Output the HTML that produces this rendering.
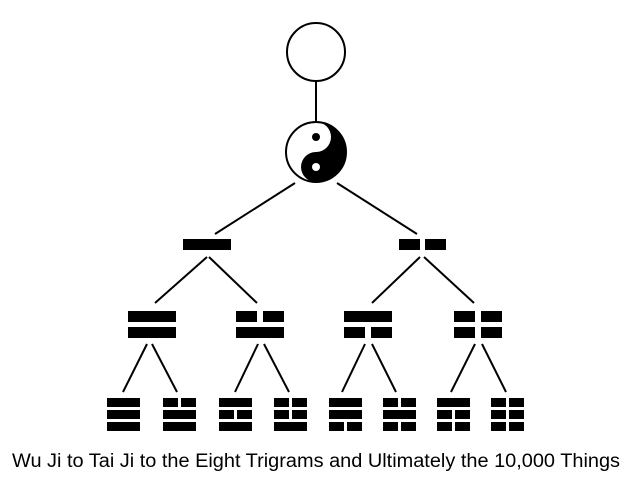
<!DOCTYPE html>
<html><head><style>html,body{margin:0;padding:0;background:#fff;}svg{display:block}</style></head>
<body>
<svg width="633" height="484" viewBox="0 0 633 484" xmlns="http://www.w3.org/2000/svg">
<rect width="633" height="484" fill="#fff"/>
<g stroke="#000" stroke-width="2" fill="none">
<circle cx="316" cy="52" r="29"/>
<line x1="316" y1="81" x2="316" y2="122"/>
<line x1="295" y1="183" x2="215" y2="234"/>
<line x1="337" y1="183" x2="417" y2="234"/>
<line x1="207" y1="257" x2="155" y2="303"/>
<line x1="209" y1="257" x2="257" y2="303"/>
<line x1="420" y1="257" x2="372" y2="303"/>
<line x1="424" y1="257" x2="474" y2="303"/>
<line x1="147" y1="344" x2="123" y2="392"/>
<line x1="152" y1="344" x2="177" y2="392"/>
<line x1="258" y1="344" x2="235" y2="392"/>
<line x1="264" y1="344" x2="289" y2="392"/>
<line x1="365" y1="344" x2="342" y2="392"/>
<line x1="372" y1="344" x2="396" y2="392"/>
<line x1="475" y1="344" x2="451" y2="392"/>
<line x1="482" y1="344" x2="506" y2="392"/>
</g>
<circle cx="316" cy="152" r="30" fill="#fff"/>
<path d="M316,122 A30,30 0 0 1 316,182 A15,15 0 0 1 316,152 A15,15 0 0 0 316,122 Z" fill="#000"/>
<circle cx="316" cy="152" r="30" fill="none" stroke="#000" stroke-width="2"/>
<circle cx="316" cy="137" r="4" fill="#000"/>
<circle cx="316" cy="167" r="4" fill="#fff"/>
<g fill="#000">
<rect x="183" y="239" width="48" height="11"/>
<rect x="399" y="239" width="21" height="11"/><rect x="425" y="239" width="21" height="11"/>
<rect x="128" y="311" width="48" height="11"/><rect x="128" y="327" width="48" height="11"/>
<rect x="236" y="311" width="21" height="11"/><rect x="263" y="311" width="21" height="11"/><rect x="236" y="327" width="48" height="11"/>
<rect x="344" y="311" width="48" height="11"/><rect x="344" y="327" width="21" height="11"/><rect x="371" y="327" width="21" height="11"/>
<rect x="454" y="311" width="21" height="11"/><rect x="481" y="311" width="21" height="11"/><rect x="454" y="327" width="21" height="11"/><rect x="481" y="327" width="21" height="11"/>

<!-- 1: 111 -->
<rect x="107" y="398" width="33" height="9"/><rect x="107" y="410" width="33" height="9"/><rect x="107" y="422" width="33" height="9"/>
<!-- 2: 011 -->
<rect x="163" y="398" width="15" height="9"/><rect x="181" y="398" width="15" height="9"/><rect x="163" y="410" width="33" height="9"/><rect x="163" y="422" width="33" height="9"/>
<!-- 3: 101 -->
<rect x="219" y="398" width="33" height="9"/><rect x="219" y="410" width="15" height="9"/><rect x="237" y="410" width="15" height="9"/><rect x="219" y="422" width="33" height="9"/>
<!-- 4: 001 -->
<rect x="274" y="398" width="15" height="9"/><rect x="292" y="398" width="15" height="9"/><rect x="274" y="410" width="15" height="9"/><rect x="292" y="410" width="15" height="9"/><rect x="274" y="422" width="33" height="9"/>
<!-- 5: 110 -->
<rect x="329" y="398" width="33" height="9"/><rect x="329" y="410" width="33" height="9"/><rect x="329" y="422" width="15" height="9"/><rect x="347" y="422" width="15" height="9"/>
<!-- 6: 010 -->
<rect x="383" y="398" width="15" height="9"/><rect x="401" y="398" width="15" height="9"/><rect x="383" y="410" width="33" height="9"/><rect x="383" y="422" width="15" height="9"/><rect x="401" y="422" width="15" height="9"/>
<!-- 7: 100 -->
<rect x="437" y="398" width="33" height="9"/><rect x="437" y="410" width="15" height="9"/><rect x="455" y="410" width="15" height="9"/><rect x="437" y="422" width="15" height="9"/><rect x="455" y="422" width="15" height="9"/>
<!-- 8: 000 -->
<rect x="491" y="398" width="15" height="9"/><rect x="509" y="398" width="15" height="9"/><rect x="491" y="410" width="15" height="9"/><rect x="509" y="410" width="15" height="9"/><rect x="491" y="422" width="15" height="9"/><rect x="509" y="422" width="15" height="9"/>
</g>
<text x="12" y="467" font-family="Liberation Sans, Arial, sans-serif" font-size="19" textLength="608" lengthAdjust="spacingAndGlyphs" fill="#000">Wu Ji to Tai Ji to the Eight Trigrams and Ultimately the 10,000 Things</text>
</svg>
</body></html>
